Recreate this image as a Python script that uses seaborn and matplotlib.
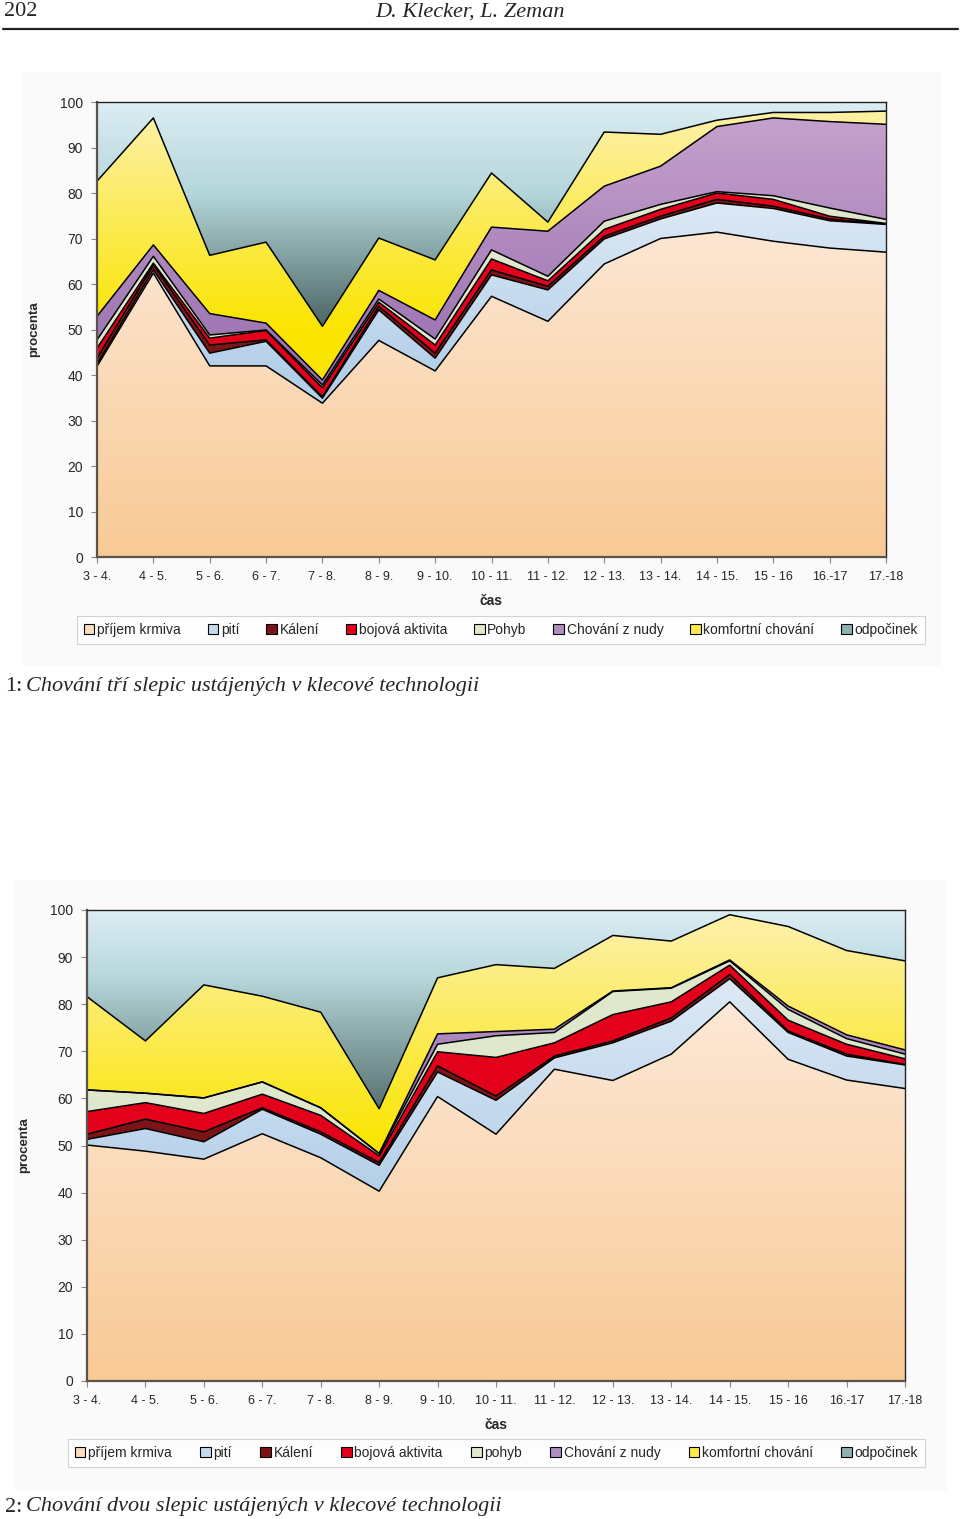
import numpy as np
import pandas as pd
import matplotlib.pyplot as plt
import seaborn as sns
from matplotlib.colors import LinearSegmentedColormap
from matplotlib.patches import Patch, Rectangle
from matplotlib.lines import Line2D

sns.set_style("white")
plt.rcParams['font.family'] = ['Liberation Sans', 'DejaVu Sans']

casy = ["3 - 4.", "4 - 5.", "5 - 6.", "6 - 7.", "7 - 8.", "8 - 9.", "9 - 10.",
        "10 - 11.", "11 - 12.", "12 - 13.", "13 - 14.", "14 - 15.", "15 - 16",
        "16.-17", "17.-18"]

nazvy1 = ["příjem krmiva", "pití", "Kálení", "bojová aktivita", "Pohyb",
          "Chování z nudy", "komfortní chování", "odpočinek"]
nazvy2 = ["příjem krmiva", "pití", "Kálení", "bojová aktivita", "pohyb",
          "Chování z nudy", "komfortní chování", "odpočinek"]

# obr. 1 - tri slepice (procenta)
krmivo1 = [41.9, 62.4, 42.0, 42.0, 33.8, 47.6, 40.9, 57.3, 51.8, 64.4, 70.0, 71.4, 69.4, 67.9, 67.0]
piti1 = [0.5, 0.7, 2.8, 5.4, 1.1, 6.7, 2.8, 4.7, 6.9, 5.5, 4.3, 6.4, 7.2, 6.0, 6.1]
kaleni1 = [1.3, 1.1, 1.8, 0.3, 0.3, 0.8, 1.1, 1.1, 0.8, 0.6, 0.6, 0.8, 0.5, 0.4, 0.1]
bojova1 = [2.2, 0.4, 1.5, 2.1, 2.0, 0.9, 1.8, 2.4, 1.2, 1.5, 1.5, 1.4, 1.5, 0.6, 0.1]
pohyb1 = [1.8, 1.5, 0.7, 0.1, 0.6, 0.7, 1.3, 2.0, 1.0, 1.8, 1.1, 0.3, 0.8, 1.8, 0.9]
nuda1 = [5.2, 2.5, 4.7, 1.5, 1.1, 1.9, 4.2, 5.0, 9.9, 7.7, 8.4, 14.3, 17.1, 19.0, 20.9]
komfort1 = [29.7, 27.9, 12.8, 17.8, 11.8, 11.5, 13.2, 11.9, 2.0, 11.9, 7.0, 1.4, 1.2, 2.0, 2.9]
odpocinek1 = [17.4, 3.5, 33.7, 30.8, 49.3, 29.9, 34.7, 15.6, 26.4, 6.6, 7.1, 4.0, 2.3, 2.3, 2.0]

# obr. 2 - dve slepice (procenta)
krmivo2 = [50.1, 48.8, 47.1, 52.5, 47.4, 40.3, 60.4, 52.4, 66.2, 63.8, 69.4, 80.5, 68.3, 63.9, 62.1]
piti2 = [1.2, 4.8, 3.7, 5.2, 5.0, 5.5, 5.2, 7.2, 2.4, 8.0, 7.0, 4.9, 5.7, 5.1, 5.0]
kaleni2 = [1.1, 2.0, 2.1, 0.3, 0.5, 0.6, 1.3, 0.9, 0.4, 0.4, 0.7, 0.9, 0.3, 0.4, 0.1]
bojova2 = [4.8, 3.5, 3.9, 2.9, 3.5, 1.4, 3.0, 8.2, 2.8, 5.6, 3.4, 2.0, 2.3, 2.1, 1.2]
pohyb2 = [4.6, 2.0, 3.3, 2.6, 1.6, 0.5, 1.6, 4.6, 2.2, 4.9, 2.9, 0.9, 2.3, 1.2, 1.0]
nuda2 = [0.0, 0.0, 0.0, 0.0, 0.0, 0.0, 2.2, 0.9, 0.7, 0.1, 0.1, 0.2, 0.7, 0.8, 0.9]
komfort2 = [19.8, 11.1, 24.0, 18.2, 20.3, 9.5, 11.9, 14.2, 12.9, 11.8, 9.9, 9.6, 16.9, 17.9, 18.9]
odpocinek2 = [18.4, 27.8, 15.9, 18.3, 21.7, 42.2, 14.4, 11.6, 12.4, 5.4, 6.6, 1.0, 3.5, 8.6, 10.8]

barvy = ['#fbdcbc', '#c4daef', '#7b1416', '#e2001a', '#dfe8cc', '#b08cc0', '#fbe94a', '#8fb0b0']

# prechody barev: vrstva -> [(hodnota y, barva), ...]
prechody1 = {
    0: [(0, '#f8ca96'), (75, '#fde8d6')],
    1: [(40, '#b4cfe9'), (78, '#dde9f5')],
    5: [(45, '#9c74b2'), (95, '#c4a0cc')],
    6: [(50, '#fae500'), (95, '#fdf0a0')],
    7: [(50, '#4a6262'), (65, '#7f9d9d'), (80, '#b4d6da'), (100, '#dcedf4')],
}
prechody2 = {
    0: [(0, '#f8ca96'), (80, '#fde8d6')],
    1: [(40, '#b4cfe9'), (85, '#dde9f5')],
    5: [(60, '#9c74b2'), (90, '#c4a0cc')],
    6: [(50, '#fae500'), (95, '#fdf0a0')],
    7: [(57, '#566e6e'), (72, '#86a4a4'), (86, '#b8d8dc'), (100, '#dcedf4')],
}


def prechod(ax, poly, body):
    lo, hi = body[0][0], body[-1][0]
    cmap = LinearSegmentedColormap.from_list(
        'g', [((v - lo) / (hi - lo), c) for v, c in body])
    yy = np.linspace(0, 100, 400)
    t = np.clip((yy - lo) / (hi - lo), 0, 1).reshape(-1, 1)
    im = ax.imshow(t, extent=(0, len(casy) - 1, 0, 100), origin='lower',
                   aspect='auto', cmap=cmap, vmin=0, vmax=1, zorder=1.5,
                   interpolation='bilinear')
    im.set_clip_path(poly.get_paths()[0], ax.transData)


def graf(ax, vrstvy, nazvy, prechody, legenda_box):
    x = np.arange(len(casy))
    polys = ax.stackplot(x, *vrstvy, colors=barvy, edgecolor='none', zorder=1)
    for i, body in prechody.items():
        prechod(ax, polys[i], body)

    # obrysy vrstev
    horni = np.cumsum(np.array(vrstvy), axis=0)
    df = pd.DataFrame({
        'x': np.tile(x, len(vrstvy)),
        'y': horni.ravel(),
        'vrstva': np.repeat(nazvy, len(x)),
    })
    sns.lineplot(data=df, x='x', y='y', units='vrstva', estimator=None,
                 color='black', lw=1.1, sort=False, ax=ax, zorder=3)

    ax.set_xlim(0, len(casy) - 1)
    ax.set_ylim(0, 100)
    ax.set_yticks(range(0, 101, 10))
    ax.set_xticks(x)
    ax.set_xticklabels(casy, fontsize=9)
    ax.tick_params(axis='y', labelsize=10, length=4, width=0.8, color='#888', left=True, pad=6)
    ax.tick_params(axis='x', length=4, width=0.8, color='#888', bottom=True, pad=6)
    ax.set_xlabel('čas', fontsize=10, fontweight='bold', labelpad=8)
    ax.set_ylabel('procenta', fontsize=9.5, fontweight='bold', labelpad=14)
    for s in ['left', 'bottom']:
        ax.spines[s].set_color('#5b534c')
        ax.spines[s].set_linewidth(1.6)
    for s in ['top', 'right']:
        ax.spines[s].set_color('#222222')
        ax.spines[s].set_linewidth(1.0)
    for s in ax.spines.values():
        s.set_zorder(4)

    handles = [Patch(facecolor=c, edgecolor='black', linewidth=0.8) for c in barvy]
    leg = ax.legend(handles, nazvy, loc='center', ncol=8, mode='expand',
                    bbox_to_anchor=legenda_box, fontsize=10, frameon=True,
                    fancybox=False, edgecolor='#c8c8c8', handlelength=0.75,
                    handleheight=0.75, handletextpad=0.2, borderaxespad=0,
                    columnspacing=0.5, borderpad=0.5)
    leg.get_frame().set_linewidth(0.8)


fig = plt.figure(figsize=(9.6, 15.19), dpi=100)
fig.patches.append(Rectangle((22 / 960, 1 - 665 / 1519), 918 / 960, 593 / 1519,
                             transform=fig.transFigure, color='#fafafa', zorder=-5))
fig.patches.append(Rectangle((15 / 960, 1 - 1490 / 1519), 930 / 960, 610 / 1519,
                             transform=fig.transFigure, color='#fafafa', zorder=-5))

ax1 = fig.add_axes([97 / 960, 1 - 557 / 1519, 789 / 960, 455 / 1519])
ax2 = fig.add_axes([87 / 960, 1 - 1381 / 1519, 818 / 960, 471 / 1519])

graf(ax1, [krmivo1, piti1, kaleni1, bojova1, pohyb1, nuda1, komfort1, odpocinek1],
     nazvy1, prechody1, (-20 / 789, -90 / 455, 848 / 789, 34 / 455))
graf(ax2, [krmivo2, piti2, kaleni2, bojova2, pohyb2, nuda2, komfort2, odpocinek2],
     nazvy2, prechody2, (-19 / 818, -89 / 471, 857 / 818, 34 / 471))

# hlavicka stranky a popisky obrazku
serif = ['Liberation Serif', 'DejaVu Serif']
fig.text(4 / 960, 1 - 12 / 1519, '202', family=serif, fontsize=16, va='center')
fig.text(470 / 960, 1 - 12 / 1519, 'D. Klecker, L. Zeman', family=serif,
         style='italic', fontsize=16, va='center', ha='center')
fig.add_artist(Line2D([3 / 960, 958 / 960], [1 - 29 / 1519, 1 - 29 / 1519],
                      transform=fig.transFigure, color='#222', lw=1.6))

fig.text(5 / 960, 1 - 687 / 1519, '1:', family=serif, fontsize=16, va='center')
fig.text(26 / 960, 1 - 687 / 1519, 'Chování tří slepic ustájených v klecové technologii',
         family=serif, style='italic', fontsize=16, va='center')
fig.text(5 / 960, 1 - 1507 / 1519, '2:', family=serif, fontsize=16, va='center')
fig.text(26 / 960, 1 - 1507 / 1519, 'Chování dvou slepic ustájených v klecové technologii',
         family=serif, style='italic', fontsize=16, va='center')

fig.savefig('out.png', dpi=100)
